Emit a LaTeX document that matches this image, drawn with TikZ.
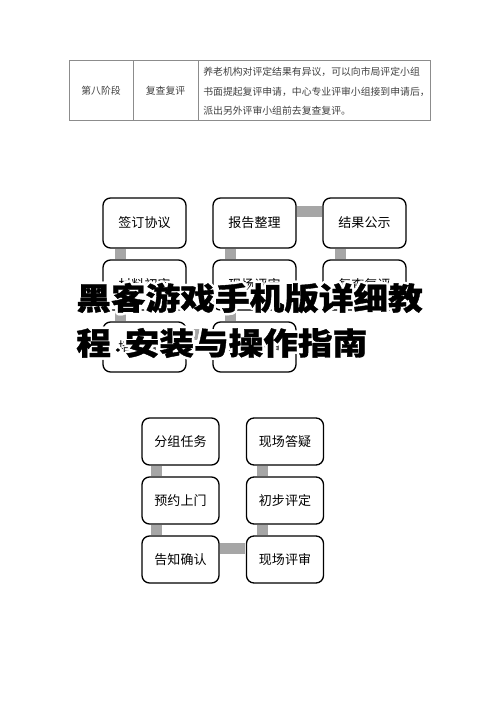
\documentclass[tikz,border=0pt]{standalone}
\usepackage{fontspec}
\usepackage{xcolor}
\usepackage{tikz}
\newfontfamily\cjk{Noto Sans CJK SC}
\newfontfamily\titlefont[FakeStretch=1.12, BoldFeatures={FakeBold=1.2}]{Noto Sans CJK SC}
\definecolor{linkgray}{HTML}{A6A6A6}
\definecolor{rulegray}{HTML}{8C8C8C}
\definecolor{textgray}{HTML}{404040}

\begin{document}
\begin{tikzpicture}[
  box/.style={draw=black, line width=0.75pt, fill=white, rounded corners=0.15cm,
    minimum width=1.66cm, minimum height=1cm, inner sep=0pt,
    font=\cjk\fontsize{7.4}{9}\selectfont},
  smallbox/.style={box, minimum width=1.54cm, minimum height=0.94cm},
  link/.style={draw=linkgray, line width=0.22cm, shorten >=0.4pt, shorten <=0.4pt},
  cell/.style={font=\cjk\fontsize{5.6}{7}\selectfont, text=textgray, inner sep=0pt},
  headline/.style={font=\titlefont\bfseries\fontsize{17.6}{20}\selectfont, inner sep=0pt, anchor=west}]
\useasboundingbox (0,0) rectangle (10,-14.14);

% Table row
\draw[rulegray, line width=0.5pt] (1.38,-1.2) rectangle (8.6,-2.4);
\draw[rulegray, line width=0.5pt] (2.66,-1.2) -- (2.66,-2.4);
\draw[rulegray, line width=0.5pt] (3.96,-1.2) -- (3.96,-2.4);
\node[cell] (stage) at (2.02,-1.82) {第八阶段};
\node[cell] (item) at (3.31,-1.82) {复查复评};
\node[cell, anchor=west] (desc1) at (4.06,-1.44) {养老机构对评定结果有异议，可以向市局评定小组};
\node[cell, anchor=west] (desc2) at (4.06,-1.84) {书面提起复评申请，中心专业评审小组接到申请后，};
\node[cell, anchor=west] (desc3) at (4.06,-2.22) {派出另外评审小组前去复查复评。};

% Upper flow
\node[box] (sign) at (2.89,-4.46) {签订协议};
\node[box, right of=sign, node distance=2.2cm] (report) {报告整理};
\node[box, right of=report, node distance=2.2cm] (publish) {结果公示};
\node[box, below of=sign, node distance=1.24cm] (check) {材料初审};
\node[box, below of=report, node distance=1.24cm] (review) {现场评审};
\node[box, below of=publish, node distance=1.24cm] (recheck) {复查复评};
\node[box, below of=check, node distance=1.24cm] (self) {培训自评};
\node[box, below of=review, node distance=1.24cm] (organize) {组织评审};
\draw[link] ([xshift=0.36cm]sign.south west) -- ([xshift=0.36cm]check.north west);
\draw[link] ([xshift=0.36cm]check.south west) -- ([xshift=0.36cm]self.north west);
\draw[link] ([yshift=-0.26cm]self.north east) -- ([yshift=-0.26cm]organize.north west);
\draw[link] ([xshift=0.36cm]organize.north west) -- ([xshift=0.36cm]review.south west);
\draw[link] ([xshift=0.36cm]review.north west) -- ([xshift=0.36cm]report.south west);
\draw[link] ([yshift=-0.28cm]report.north east) -- ([yshift=-0.28cm]publish.north west);
\draw[link] ([xshift=0.36cm]publish.south west) -- ([xshift=0.36cm]recheck.north west);

% Lower flow
\node[smallbox] (group) at (3.61,-8.83) {分组任务};
\node[smallbox, right of=group, node distance=2.09cm] (answer) {现场答疑};
\node[smallbox, below of=group, node distance=1.18cm] (book) {预约上门};
\node[smallbox, below of=book, node distance=1.18cm] (notify) {告知确认};
\node[smallbox, below of=answer, node distance=1.18cm] (prelim) {初步评定};
\node[smallbox, below of=prelim, node distance=1.18cm] (onsite) {现场评审};
\draw[link] ([xshift=0.31cm]group.south west) -- ([xshift=0.31cm]book.north west);
\draw[link] ([xshift=0.31cm]book.south west) -- ([xshift=0.31cm]notify.north west);
\draw[link] ([yshift=-0.26cm]notify.north east) -- ([yshift=-0.26cm]onsite.north west);
\draw[link] ([xshift=0.33cm]onsite.north west) -- ([xshift=0.33cm]prelim.south west);
\draw[link] ([xshift=0.33cm]prelim.north west) -- ([xshift=0.33cm]answer.south west);

% Overlaid title
\newcommand\titledot{{\fontsize{7}{7}\selectfont ·}}
\foreach \a in {0,30,...,330} {
  \node[headline, text=white] (halo1-\a) at ([shift={(\a:0.05cm)}]1.52,-5.96) {黑客游戏手机版详细教};
  \node[headline, text=white] (halo2-\a) at ([shift={(\a:0.05cm)}]1.52,-6.86) {程\titledot 安装与操作指南};
}
\node[headline] (title1) at (1.52,-5.96) {黑客游戏手机版详细教};
\node[headline] (title2) at (1.52,-6.86) {程\titledot 安装与操作指南};
\end{tikzpicture}
\end{document}
